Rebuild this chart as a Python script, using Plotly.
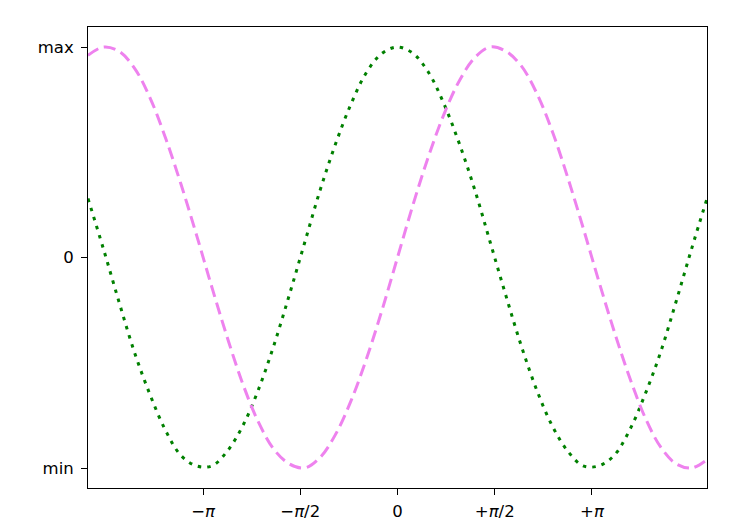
import plotly.graph_objects as go

x_vals = [-5.0, -4.75, -4.5, -4.25, -4.0, -3.75, -3.5, -3.25, -3.0, -2.75, -2.5, -2.25, -2.0, -1.75, -1.5, -1.25, -1.0, -0.75, -0.5, -0.25,
          0.0, 0.25, 0.5, 0.75, 1.0, 1.25, 1.5, 1.75, 2.0, 2.25, 2.5, 2.75, 3.0, 3.25, 3.5, 3.75, 4.0, 4.25, 4.5, 4.75, 5.0]
cos_vals = [0.28, 0.04, -0.21, -0.45, -0.65, -0.82, -0.94, -0.99, -0.99, -0.92, -0.80, -0.63, -0.42, -0.18, 0.07, 0.32, 0.54, 0.73, 0.88, 0.97,
            1.00, 0.97, 0.88, 0.73, 0.54, 0.32, 0.07, -0.18, -0.42, -0.63, -0.80, -0.92, -0.99, -0.99, -0.94, -0.82, -0.65, -0.45, -0.21, 0.04, 0.28]
sin_vals = [0.96, 1.00, 0.98, 0.90, 0.76, 0.57, 0.35, 0.11, -0.14, -0.38, -0.60, -0.78, -0.91, -0.98, -1.00, -0.95, -0.84, -0.68, -0.48, -0.25,
            0.00, 0.25, 0.48, 0.68, 0.84, 0.95, 1.00, 0.98, 0.91, 0.78, 0.60, 0.38, 0.14, -0.11, -0.35, -0.57, -0.76, -0.90, -0.98, -1.00, -0.96]

PI = 3.141592653589793
x_tick_vals = [-PI, -PI / 2, 0, PI / 2, PI]
x_tick_text = ["\u2212<i>\u03c0</i>", "\u2212<i>\u03c0</i>/2", "0", "+<i>\u03c0</i>/2", "+<i>\u03c0</i>"]
y_tick_vals = [-1, 0, 1]
y_tick_text = ["min", "0", "max"]

fig = go.Figure()
fig.add_trace(go.Scatter(x=x_vals, y=cos_vals, mode="lines",
                         line=dict(color="green", width=3, dash="3.5px,6px", shape="spline", smoothing=1.0)))
fig.add_trace(go.Scatter(x=x_vals, y=sin_vals, mode="lines",
                         line=dict(color="violet", width=3, dash="12px,6px", shape="spline", smoothing=1.0)))

axis_common = dict(showgrid=False, zeroline=False, showline=True, linecolor="black", linewidth=1,
                   mirror=True, ticks="outside", ticklen=6, tickwidth=1, tickcolor="black",
                   automargin=False,
                   tickfont=dict(family="DejaVu Sans", size=16.5, color="black"))
fig.update_xaxes(range=[-5, 5], tickmode="array", tickvals=x_tick_vals, ticktext=x_tick_text,
                 ticklabelstandoff=2, **axis_common)
fig.update_yaxes(range=[-1.095, 1.095], tickmode="array", tickvals=y_tick_vals, ticktext=y_tick_text,
                 ticklabelstandoff=4, **axis_common)

fig.update_layout(width=722, height=512, showlegend=False,
                  margin=dict(l=80, r=23, t=19, b=32),
                  paper_bgcolor="white", plot_bgcolor="white",
                  font=dict(family="DejaVu Sans", size=16.5, color="black"))

fig.write_html("out.html")
